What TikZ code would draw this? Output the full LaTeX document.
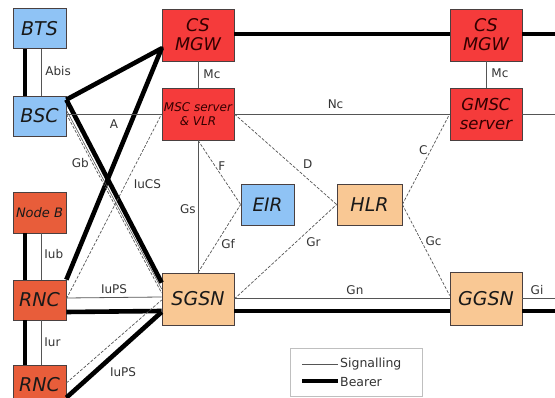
\documentclass[tikz,border=0pt]{standalone}
\usepackage{fontspec}
\setmainfont{DejaVu Sans}
\usetikzlibrary{calc,positioning}
\definecolor{gsmblue}{HTML}{8FC3F5}
\definecolor{coreRed}{HTML}{F53B3B}
\definecolor{ranRed}{HTML}{E85D3A}
\definecolor{pktOrange}{HTML}{F9C894}
\definecolor{boxline}{HTML}{4A4040}
\definecolor{sigline}{HTML}{555555}
\definecolor{labeltext}{HTML}{333333}
\tikzset{
  netbox/.style={draw=boxline, line width=0.7pt, inner sep=0pt, align=center,
    font=\itshape\fontsize{19}{22}\selectfont, text=black!90},
  bluebox/.style={netbox, fill=gsmblue, minimum width=53pt, minimum height=40pt},
  ranbox/.style={netbox, fill=ranRed, minimum width=53pt, minimum height=40pt},
  redbox/.style={netbox, fill=coreRed, minimum width=72pt, minimum height=52pt, text=black!80!red},
  pktbox/.style={netbox, fill=pktOrange, minimum width=72pt, minimum height=52pt},
  bearer/.style={line width=4.6pt, black},
  signal/.style={line width=0.8pt, sigline},
  sigdash/.style={line width=0.7pt, sigline, dash pattern=on 3pt off 1.6pt},
  lbl/.style={font=\fontsize{12}{14}\selectfont, text=labeltext, inner sep=0pt},
}
\begin{document}
\begin{tikzpicture}[x=1pt, y=-1pt]
\useasboundingbox (0,0) rectangle (555,398);
\clip (0,0) rectangle (555,398);

% access network
\node[bluebox] (bts) at (39.5,28.5) {BTS};
\node[bluebox] (bsc) at (39.5,116) {BSC};
\node[ranbox, minimum height=41pt, font=\itshape\fontsize{13}{15}\selectfont] (nodeb) at (39.5,212.5) {Node B};
\node[ranbox] (rnc1) at (39.5,300) {RNC};
\node[ranbox] (rnc2) at (39.5,385) {RNC};

% circuit-switched core
\node[redbox, font=\itshape\fontsize{17.5}{19}\selectfont] (mgw1) at (198,35) {CS\\MGW};
\node[redbox, font=\itshape\fontsize{12}{14}\selectfont] (msc) at (198,114) {MSC server\\\& VLR};
\node[redbox, font=\itshape\fontsize{17.5}{19}\selectfont] (mgw2) at (486,35) {CS\\MGW};
\node[redbox, font=\itshape\fontsize{16.5}{19}\selectfont] (gmsc) at (486,114) {GMSC\\server};

% databases
\node[bluebox, minimum height=41pt, font=\itshape\fontsize{18.5}{22}\selectfont] (eir) at (267.5,204.5) {EIR};
\node[netbox, fill=pktOrange, minimum width=65pt, minimum height=41pt] (hlr) at (369.5,204.5) {HLR};

% packet-switched core
\node[pktbox] (sgsn) at (198,299) {SGSN};
\node[pktbox, minimum height=53pt] (ggsn) at (486,298.5) {GGSN};

% open ends towards the right border
\coordinate (nbend) at (555,34);
\coordinate (ncend) at (555,114);
\coordinate (giend) at (555,298);
\coordinate (gibear) at (555,311);

% bearer connections
\draw[bearer] (bts.south -| 25,0) -- (bsc.north -| 25,0);
\draw[bearer] (nodeb.south -| 25,0) -- (rnc1.north -| 25,0);
\draw[bearer] (rnc1.south -| 25,0) -- (rnc2.north -| 25,0);
\draw[bearer, line join=round] ($(bsc.north east)+(0,4)$) -- ($(mgw1.south west)+(0,-13)$) -- (rnc1.north east);
\draw[bearer] ($(bsc.north east)+(0,4)$) -- ($(sgsn.north west)+(0,10)$);
\draw[bearer] ($(rnc1.east)+(0,12)$) -- ($(sgsn.west)+(0,12)$);
\draw[bearer] ($(rnc2.north east)+(0,33)$) -- ($(sgsn.west)+(0,13)$);
\draw[bearer] ($(sgsn.east)+(0,12)$) -- ($(ggsn.west)+(0,12.5)$);
\draw[bearer] ($(ggsn.east)+(0,12.5)$) -- (gibear);
\draw[bearer] ($(mgw1.east)+(0,-1)$) -- ($(mgw2.west)+(0,-1)$);
\draw[bearer] ($(mgw2.east)+(0,-1)$) -- (nbend);

% signalling connections
\draw[signal] (bts.south -| 41,0) -- node[lbl, right=4pt, pos=0.48] {Abis} (bsc.north -| 41,0);
\draw[signal] (nodeb.south -| 41,0) -- node[lbl, right=3pt, pos=0.45] {Iub} (rnc1.north -| 41,0);
\draw[signal] (rnc1.south -| 41,0) -- node[lbl, right=3pt, pos=0.5] {Iur} (rnc2.north -| 41,0);
\draw[signal] (mgw1.south) -- node[lbl, right=5pt] {Mc} (msc.north);
\draw[signal] (mgw2.south) -- node[lbl, right=5pt, pos=0.45] {Mc} (gmsc.north);
\draw[signal] (bsc.east |- msc.west) -- node[lbl, below=5pt] {A} (msc.west);
\draw[signal] (msc.east) -- node[lbl, above=5pt, pos=0.47] {Nc} (gmsc.west);
\draw[signal] (gmsc.east) -- (ncend);
\draw[signal] (msc.south) -- node[lbl, left=2pt, pos=0.52] {Gs} (sgsn.north);
\draw[signal] ($(rnc1.east)+(0,-2)$) -- node[lbl, above=3pt] {IuPS} ($(sgsn.west)+(0,-2)$);
\draw[signal] ($(sgsn.east)+(0,-1)$) -- node[lbl, above=3pt, pos=0.56] {Gn} ($(ggsn.west)+(0,-0.5)$);
\draw[signal] ($(ggsn.east)+(0,-0.5)$) -- node[lbl, above=3pt, pos=0.45] {Gi} (giend);
\draw[signal, line width=0.6pt] ($(bsc.east)+(0,-6)$) -- ($(sgsn.west)+(0,-10)$);
\draw[sigdash] ($(bsc.east)+(0,-2)$) -- node[lbl, pos=0.27, left=3pt, yshift=-1pt] {Gb} ($(sgsn.west)+(0,-6)$);
\draw[sigdash] ($(rnc1.east)+(0,-1)$) -- node[lbl, pos=0.62, right=8pt] {IuCS} (msc.west);
\draw[sigdash] ($(rnc2.east)+(0,-2)$) -- node[lbl, pos=0.5, xshift=9pt, yshift=-31pt] {IuPS} ($(sgsn.west)+(0,1)$);
\draw[sigdash] (msc.south) -- node[lbl, pos=0.4, right=3pt] {F} (eir.west);
\draw[sigdash] (sgsn.north) -- node[lbl, pos=0.42, right=5pt] {Gf} (eir.west);
\draw[sigdash] (msc.east) -- node[lbl, pos=0.63, xshift=9pt, yshift=7pt] {D} (hlr.west);
\draw[sigdash] (sgsn.east) -- node[lbl, pos=0.7, below right=4pt and 0pt] {Gr} (hlr.west);
\draw[sigdash] (hlr.east) -- node[lbl, pos=0.6, left=3pt] {C} (gmsc.west);
\draw[sigdash] (hlr.east) -- node[lbl, pos=0.4, right=4pt] {Gc} ($(ggsn.west)+(0,-3)$);

% legend
\node[draw=black!25, line width=0.8pt, minimum width=132pt, minimum height=48pt, inner sep=0pt] (legend) at (356,372) {};
\coordinate (sigA) at (302,364);
\coordinate (sigB) at (338,364);
\coordinate (bearA) at (302,381);
\coordinate (bearB) at (338,381);
\draw[signal] (sigA) -- (sigB);
\draw[bearer, line width=4pt] (bearA) -- (bearB);
\node[lbl, anchor=west, font=\fontsize{12.5}{14}\selectfont] (sigtext) at (340,364) {Signalling};
\node[lbl, anchor=west, font=\fontsize{12.5}{14}\selectfont] (beartext) at (340,382) {Bearer};
\end{tikzpicture}
\end{document}
